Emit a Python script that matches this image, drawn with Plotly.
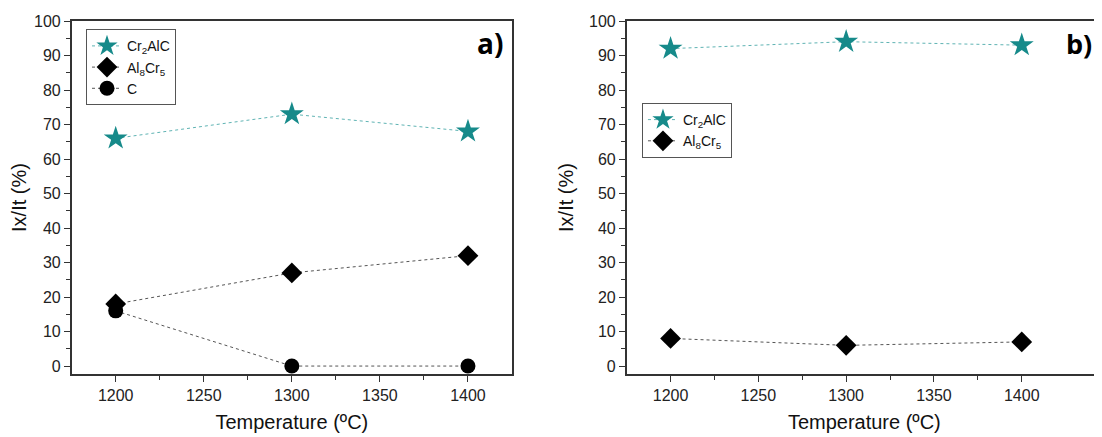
import plotly.graph_objects as go

temps = [1200, 1300, 1400]
a_cr2alc = [66, 73, 68]
a_al8cr5 = [18, 27, 32]
a_c = [16, 0, 0]
b_cr2alc = [92, 94, 93]
b_al8cr5 = [8, 6, 7]

name_cr2alc = "Cr<sub>2</sub>AlC"
name_al8cr5 = "Al<sub>8</sub>Cr<sub>5</sub>"
name_c = "C"

teal = "#168a8a"
black = "#000000"

fig = go.Figure()

def add(x, y, name, color, symbol, size, xa, ya, legend, linecolor):
    fig.add_trace(go.Scatter(
        x=x, y=y, name=name, mode="lines+markers",
        line=dict(color=linecolor, width=1, dash="dot"),
        marker=dict(symbol=symbol, size=size, color=color),
        xaxis=xa, yaxis=ya, legend=legend))

add(temps, a_cr2alc, name_cr2alc, teal, "star", 18, "x", "y", "legend", "#5fb3b3")
add(temps, a_al8cr5, name_al8cr5, black, "diamond", 16, "x", "y", "legend", "#555555")
add(temps, a_c, name_c, black, "circle", 15, "x", "y", "legend", "#555555")
add(temps, b_cr2alc, name_cr2alc, teal, "star", 18, "x2", "y2", "legend2", "#5fb3b3")
add(temps, b_al8cr5, name_al8cr5, black, "diamond", 16, "x2", "y2", "legend2", "#555555")

FONT = "Liberation Sans, Arial, sans-serif"
tickfont = dict(family=FONT, size=16, color="#222222")
titlefont = dict(family=FONT, size=20, color="#111111")

xcommon = dict(
    tickmode="array", tickvals=[1200, 1250, 1300, 1350, 1400],
    ticks="outside", ticklen=6, tickwidth=1.2, tickcolor="#333333",
    minor=dict(tickvals=[1225, 1275, 1325, 1375], ticks="outside", ticklen=4, tickwidth=1.2, tickcolor="#333333"),
    showline=True, linecolor="#333333", linewidth=1.5, mirror=True,
    showgrid=False, zeroline=False, tickfont=tickfont,
    title=dict(text="Temperature (ºC)", font=titlefont, standoff=12),
)
ycommon = dict(
    range=[-2.3, 100], tickmode="array", tickvals=list(range(0, 101, 10)),
    ticks="outside", ticklen=6, tickwidth=1.2, tickcolor="#333333",
    minor=dict(tickvals=list(range(5, 100, 10)), ticks="outside", ticklen=4, tickwidth=1.2, tickcolor="#333333"),
    showline=True, linecolor="#333333", linewidth=1.5,
    showgrid=False, zeroline=False, tickfont=tickfont,
    title=dict(text="Ix/It (%)", font=titlefont, standoff=10),
)

fig.update_layout(
    width=1094, height=429,
    margin=dict(l=0, r=0, t=13, b=63),
    paper_bgcolor="white", plot_bgcolor="white",
    xaxis=dict(xcommon, domain=[0.0582, 0.4607], range=[1175, 1425], anchor="y"),
    yaxis=dict(ycommon, domain=[0, 1], anchor="x", mirror=True),
    xaxis2=dict(xcommon, domain=[0.5655, 1.0], range=[1175, 1445.7], anchor="y2"),
    yaxis2=dict(ycommon, domain=[0, 1], anchor="x2", mirror=False),
    legend=dict(x=0.0713, y=0.9765, xanchor="left", yanchor="top",
                bgcolor="white", bordercolor="#555555", borderwidth=1,
                font=dict(family=FONT, size=14, color="#111111"),
                tracegroupgap=0),
    legend2=dict(x=0.5795, y=0.7677, xanchor="left", yanchor="top",
                 bgcolor="white", bordercolor="#555555", borderwidth=1,
                 font=dict(family=FONT, size=14, color="#111111"),
                 tracegroupgap=0),
    annotations=[
        dict(text="<b>a)</b>", x=0.4543, y=0.937, xref="paper", yref="paper",
             xanchor="right", yanchor="middle", showarrow=False,
             font=dict(family="Open Sans", size=28, color="black")),
        dict(text="<b>b)</b>", x=0.9925, y=0.937, xref="paper", yref="paper",
             xanchor="right", yanchor="middle", showarrow=False,
             font=dict(family="Open Sans", size=27, color="black")),
    ],
    showlegend=True,
)

fig.write_html("out.html")
